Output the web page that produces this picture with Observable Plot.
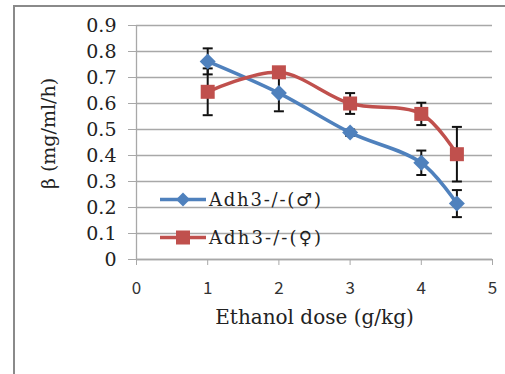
<!DOCTYPE html>
<html>
<head>
<meta charset="utf-8">
<script src="https://cdn.jsdelivr.net/npm/d3@7"></script>
<script src="https://cdn.jsdelivr.net/npm/@observablehq/plot@0.6"></script>
<style>
  html, body { margin: 0; padding: 0; background: #fff; }
  #wrap { position: relative; width: 505px; height: 374px; overflow: hidden; }
  #frame { position: absolute; left: 13px; top: 5px; width: 600px; height: 600px;
           border-left: 2px solid #8a8a8a; border-top: 2px solid #8a8a8a; box-sizing: border-box; }
  #wrap svg { position: absolute; left: 0; top: 0; }
</style>
</head>
<body>
<div id="wrap"><div id="frame"></div></div>
<script>
const doses = [1, 2, 3, 4, 4.5];
const male = [0.762, 0.64, 0.488, 0.372, 0.215];
const maleErr = [0.05, 0.07, 0.012, 0.047, 0.052];
const female = [0.645, 0.72, 0.60, 0.56, 0.405];
const femaleErr = [0.09, 0.02, 0.04, 0.043, 0.105];
const seriesNames = ["Adh3-/-(\u2642)", "Adh3-/-(\u2640)"];
const seriesColors = ["#4F81BD", "#C0504D"];
const yTicks = [0, 0.1, 0.2, 0.3, 0.4, 0.5, 0.6, 0.7, 0.8, 0.9];
const yTickLabels = ["0", "0.1", "0.2", "0.3", "0.4", "0.5", "0.6", "0.7", "0.8", "0.9"];
const xTicks = [0, 1, 2, 3, 4, 5];
const xTitle = "Ethanol dose (g/kg)";
const yTitle = "\u03B2 (mg/ml/h)";

const rows = [];
doses.forEach((d, i) => {
  rows.push({series: seriesNames[0], x: d, y: male[i], e: maleErr[i]});
  rows.push({series: seriesNames[1], x: d, y: female[i], e: femaleErr[i]});
});
const maleRows = rows.filter(r => r.series === seriesNames[0]);
const femaleRows = rows.filter(r => r.series === seriesNames[1]);

const capSymbol = { draw(ctx, size) { const r = Math.sqrt(size / Math.PI); ctx.moveTo(-r, 0); ctx.lineTo(r, 0); } };
const squareSymbol = { draw(ctx, size) { const r = Math.sqrt(size / Math.PI); ctx.rect(-r, -r, 2 * r, 2 * r); } };
const diamondSymbol = { draw(ctx, size) { const r = Math.sqrt(size / Math.PI); ctx.moveTo(0, -r); ctx.lineTo(r, 0); ctx.lineTo(0, r); ctx.lineTo(-r, 0); ctx.closePath(); } };

const serif = "'DejaVu Serif', serif";
const W = 505, H = 374;

const chart = Plot.plot({
  width: W, height: H,
  marginLeft: 136, marginRight: 13, marginTop: 25, marginBottom: 115,
  style: { background: "transparent", fontFamily: serif },
  x: { domain: [0, 5] },
  y: { domain: [0, 0.9] },
  marks: [
    Plot.gridY(yTicks, { stroke: "#a8a8a8", strokeOpacity: 1, strokeWidth: 1.3, x1: 0, x2: 5 }),
    Plot.axisY(yTicks, { tickSize: 8, tickPadding: 12, stroke: "#a8a8a8", fontSize: 19, fontFamily: serif, fill: "#222",
      tickFormat: (d, i) => yTickLabels[i], label: null }),
    Plot.axisX(xTicks, { tickSize: 6, tickPadding: 16, stroke: "#a8a8a8", fontSize: 17, fontFamily: "'Noto Sans CJK JP', sans-serif", fill: "#333",
      tickFormat: d => String(d), label: null }),
    Plot.ruleX([0], { stroke: "#a8a8a8", strokeWidth: 1.3 }),
    Plot.ruleY([0], { stroke: "#a8a8a8", strokeWidth: 1.3 }),
    // error bars
    Plot.ruleX(rows, { x: "x", y1: d => d.y - d.e, y2: d => d.y + d.e, stroke: "#111", strokeWidth: 2 }),
    Plot.dot(rows, { x: "x", y: d => d.y + d.e, symbol: capSymbol, r: 5, stroke: "#111", strokeWidth: 2 }),
    Plot.dot(rows, { x: "x", y: d => d.y - d.e, symbol: capSymbol, r: 5, stroke: "#111", strokeWidth: 2 }),
    // lines
    Plot.line(maleRows, { x: "x", y: "y", stroke: seriesColors[0], strokeWidth: 3.5, curve: "catmull-rom" }),
    Plot.line(femaleRows, { x: "x", y: "y", stroke: seriesColors[1], strokeWidth: 3.5, curve: "catmull-rom" }),
    Plot.dot(maleRows, { x: "x", y: "y", symbol: diamondSymbol, r: 8, fill: seriesColors[0], stroke: null }),
    Plot.dot(femaleRows, { x: "x", y: "y", symbol: squareSymbol, r: 7, fill: seriesColors[1], stroke: null }),
    // axis titles
    Plot.text([xTitle], { frameAnchor: "bottom", dy: 64, text: d => d, fontSize: 20, fontFamily: serif, fill: "#222" }),
    Plot.text([yTitle], { frameAnchor: "left", textAnchor: "middle", dx: -88, dy: -9, rotate: -90, text: d => d, fontSize: 19, fontFamily: serif, fill: "#222" })
  ]
});

// legend inside plot area
const svg = d3.select(chart);
const legendG = svg.append("g").attr("text-anchor", "start");
const legendY = [199.5, 237.5];
seriesNames.forEach((name, i) => {
  const g = legendG.append("g").attr("transform", `translate(0,${legendY[i]})`);
  g.append("line").attr("x1", 160).attr("x2", 206).attr("y1", 0).attr("y2", 0)
    .attr("stroke", seriesColors[i]).attr("stroke-width", 3.5);
  if (i === 0) {
    g.append("path").attr("d", "M183,-7L190,0L183,7L176,0Z").attr("fill", seriesColors[i]);
  } else {
    g.append("rect").attr("x", 176).attr("y", -7).attr("width", 14).attr("height", 14).attr("fill", seriesColors[i]);
  }
  g.append("text").attr("x", 209).attr("y", 0).attr("dy", "0.35em")
    .attr("text-anchor", "start")
    .attr("font-family", serif).attr("font-size", 18).attr("fill", "#222")
    .attr("textLength", 112).attr("lengthAdjust", "spacing")
    .text(name);
});

document.getElementById("wrap").appendChild(chart);
</script>
</body>
</html>
